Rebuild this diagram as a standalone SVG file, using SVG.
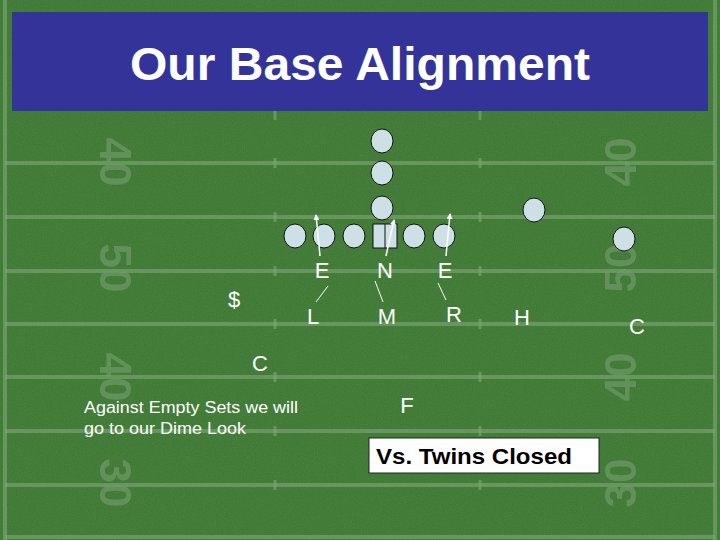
<svg xmlns="http://www.w3.org/2000/svg" width="720" height="540" viewBox="0 0 720 540">
<style>
.yl{stroke:#7fa878;stroke-width:4;opacity:0.6}
.hm{stroke:#7fa878;stroke-width:3;opacity:0.6}
.num{font-family:"Liberation Sans",Arial,sans-serif;font-size:44px;font-weight:bold;fill:#6f9a68;opacity:0.7}
.p{fill:#cde0e6;stroke:#111;stroke-width:1}
.lb{font-family:"Liberation Sans",Arial,sans-serif;font-size:22px;fill:#fff}
.ln{stroke:#fff;stroke-width:1}
.ar{stroke:#fff;stroke-width:1.5;marker-end:url(#ah)}
</style>
<defs>
<marker id="ah" markerWidth="6" markerHeight="6" refX="5" refY="3" orient="auto" markerUnits="userSpaceOnUse"><path d="M0,0 L6,3 L0,6 z" fill="#fff"/></marker>
<filter id="noise"><feTurbulence type="fractalNoise" baseFrequency="0.9" numOctaves="2" result="n"/><feColorMatrix type="matrix" values="0 0 0 0 0.15  0 0 0 0 0.35  0 0 0 0 0.12  0 0 0 0.35 0"/></filter>
</defs>
<rect width="720" height="540" fill="#3a7530"/>
<rect width="720" height="540" filter="url(#noise)"/>
<g id="field">
<line class="yl" x1="5" y1="0" x2="5" y2="540"/><line class="yl" x1="715" y1="0" x2="715" y2="540"/>
<line class="yl" x1="5" y1="163" x2="715" y2="163"/>
<line class="yl" x1="5" y1="217" x2="715" y2="217"/>
<line class="yl" x1="5" y1="271" x2="715" y2="271"/>
<line class="yl" x1="5" y1="324" x2="715" y2="324"/>
<line class="yl" x1="5" y1="377" x2="715" y2="377"/>
<line class="yl" x1="5" y1="431" x2="715" y2="431"/>
<line class="yl" x1="5" y1="485" x2="715" y2="485"/>
<line class="yl" x1="5" y1="537" x2="715" y2="537"/>
<g class="hm">
<line x1="275" y1="110" x2="275" y2="120"/><line x1="480" y1="110" x2="480" y2="120"/>
<line x1="275" y1="158" x2="275" y2="168"/><line x1="480" y1="158" x2="480" y2="168"/>
<line x1="275" y1="212" x2="275" y2="222"/><line x1="480" y1="212" x2="480" y2="222"/>
<line x1="275" y1="266" x2="275" y2="276"/><line x1="480" y1="266" x2="480" y2="276"/>
<line x1="275" y1="319" x2="275" y2="329"/><line x1="480" y1="319" x2="480" y2="329"/>
<line x1="275" y1="372" x2="275" y2="382"/><line x1="480" y1="372" x2="480" y2="382"/>
<line x1="275" y1="426" x2="275" y2="436"/><line x1="480" y1="426" x2="480" y2="436"/>
<line x1="275" y1="480" x2="275" y2="490"/><line x1="480" y1="480" x2="480" y2="490"/>
</g>
<text class="num" transform="translate(100,162) rotate(90)" text-anchor="middle">40</text>
<text class="num" transform="translate(100,268) rotate(90)" text-anchor="middle">50</text>
<text class="num" transform="translate(100,377) rotate(90)" text-anchor="middle">40</text>
<text class="num" transform="translate(100,483) rotate(90)" text-anchor="middle">30</text>
<text class="num" transform="translate(636,162) rotate(-90)" text-anchor="middle">40</text>
<text class="num" transform="translate(636,268) rotate(-90)" text-anchor="middle">50</text>
<text class="num" transform="translate(636,377) rotate(-90)" text-anchor="middle">40</text>
<text class="num" transform="translate(636,483) rotate(-90)" text-anchor="middle">30</text>
</g>
<g id="header">
<rect x="12" y="12" width="696" height="99" fill="#333399"/>
<text x="360" y="80" text-anchor="middle" font-family="Liberation Sans,Arial,sans-serif" font-size="46" font-weight="bold" fill="#fff" textLength="460" lengthAdjust="spacingAndGlyphs">Our Base Alignment</text>
</g>
<g id="offense">
<ellipse class="p" cx="382" cy="141" rx="11" ry="12"/>
<ellipse class="p" cx="382" cy="173" rx="11" ry="12"/>
<ellipse class="p" cx="382" cy="208" rx="11" ry="12"/>
<ellipse class="p" cx="295" cy="236" rx="11" ry="12"/>
<ellipse class="p" cx="324" cy="236" rx="11" ry="12"/>
<ellipse class="p" cx="354" cy="236" rx="11" ry="12"/>
<rect class="p" x="373" y="224" width="24" height="24"/>
<line x1="385" y1="224" x2="385" y2="248" stroke="#111"/>
<ellipse class="p" cx="414" cy="236" rx="11" ry="12"/>
<ellipse class="p" cx="444" cy="236" rx="11" ry="12"/>
<ellipse class="p" cx="534" cy="210" rx="11" ry="12"/>
<ellipse class="p" cx="624" cy="239" rx="11" ry="12"/>
</g>
<g id="connectors">
<line class="ar" x1="320" y1="256" x2="316" y2="215"/>
<line class="ar" x1="386" y1="256" x2="394" y2="220"/>
<line class="ar" x1="446" y1="256" x2="450" y2="214"/>
<line class="ln" x1="328" y1="286" x2="316" y2="302"/>
<line class="ln" x1="375" y1="281" x2="383" y2="302"/>
<line class="ln" x1="438" y1="283" x2="446" y2="300"/>
</g>
<g id="defense">
<text class="lb" x="322" y="278" text-anchor="middle">E</text>
<text class="lb" x="385" y="278" text-anchor="middle">N</text>
<text class="lb" x="445" y="278" text-anchor="middle">E</text>
<text class="lb" x="234" y="307" text-anchor="middle">$</text>
<text class="lb" x="313" y="324" text-anchor="middle">L</text>
<text class="lb" x="387" y="324" text-anchor="middle">M</text>
<text class="lb" x="454" y="322" text-anchor="middle">R</text>
<text class="lb" x="522" y="325" text-anchor="middle">H</text>
<text class="lb" x="637" y="334" text-anchor="middle">C</text>
<text class="lb" x="260" y="371" text-anchor="middle">C</text>
<text class="lb" x="407" y="413" text-anchor="middle">F</text>
</g>
<g id="note" font-family="Liberation Sans,Arial,sans-serif" font-size="16" fill="#fff">
<text x="84" y="413" textLength="214" lengthAdjust="spacingAndGlyphs">Against Empty Sets we will</text>
<text x="84" y="434" textLength="162" lengthAdjust="spacingAndGlyphs">go to our Dime Look</text>
</g>
<g id="label">
<rect x="369" y="438" width="230" height="35" fill="#fff" stroke="#222"/>
<text x="376" y="464" font-family="Liberation Sans,Arial,sans-serif" font-size="22" font-weight="bold" fill="#000" textLength="196" lengthAdjust="spacingAndGlyphs">Vs. Twins Closed</text>
</g>
</svg>
